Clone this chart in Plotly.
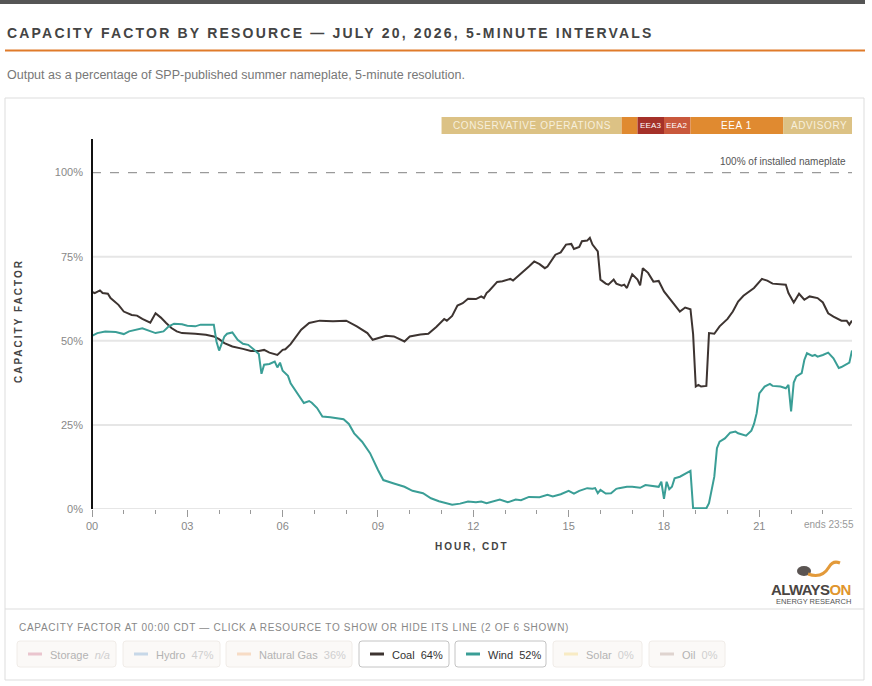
import plotly.graph_objects as go

# values: CDT time of the 5-minute interval, % of nameplate
coal_times = ["00:00", "00:05", "00:15", "00:20", "00:30", "00:35", "00:50",
              "01:00", "01:15", "01:25", "01:35", "01:50", "02:00", "02:10",
              "02:20", "02:30", "02:40", "02:50", "03:15", "03:35", "03:50",
              "04:00", "04:10", "04:25", "04:45", "05:00", "05:15", "05:25",
              "05:35", "05:50", "06:00", "06:05", "06:15", "06:35", "06:50",
              "07:10", "07:35", "08:00", "08:20", "08:40", "08:50", "09:05",
              "09:15", "09:30", "09:50", "10:00", "10:20", "10:35", "10:50",
              "11:05", "11:10", "11:20", "11:30", "11:40", "11:50", "12:05",
              "12:15", "12:20", "12:25", "12:30", "12:45", "12:55", "13:05",
              "13:10", "13:15", "13:25", "13:40", "13:45", "13:55", "14:05",
              "14:15", "14:20", "14:35", "14:45", "14:55", "15:05", "15:10",
              "15:20", "15:25", "15:35", "15:40", "15:45", "15:55", "16:00",
              "16:10", "16:15", "16:25", "16:30", "16:40", "16:45", "16:50",
              "17:00", "17:10", "17:15", "17:20", "17:30", "17:40", "17:50",
              "18:00", "18:10", "18:20", "18:30", "18:40", "18:50", "18:55",
              "19:00", "19:05", "19:10", "19:20", "19:25", "19:35", "19:45",
              "20:00", "20:10", "20:20", "20:30", "20:50", "21:05", "21:15",
              "21:25", "21:50", "21:55", "22:05", "22:15", "22:25", "22:35",
              "22:50", "23:00", "23:10", "23:20", "23:35", "23:45", "23:50",
              "23:55"]
coal_cf = [64.5, 64.2, 65.0, 64.2, 64.0, 62.7, 60.7,
           58.7, 57.7, 57.5, 56.5, 55.4, 58.2, 56.9,
           55.3, 53.8, 52.8, 52.3, 52.1, 51.8, 51.3,
           50.5, 49.3, 48.3, 47.6, 47.0, 47.0, 47.3,
           46.5, 45.8, 47.3, 47.5, 49.0, 53.3, 55.3,
           56.0, 55.8, 56.0, 54.3, 52.3, 50.3, 51.1,
           51.5, 51.3, 49.8, 51.3, 51.9, 52.1, 54.1,
           56.5, 56.0, 57.4, 60.5, 61.2, 62.5, 62.4,
           63.2, 62.7, 64.2, 64.9, 67.5, 67.7, 68.2,
           68.4, 67.9, 69.4, 71.4, 72.1, 73.6, 72.8,
           71.6, 72.1, 75.6, 76.3, 78.6, 78.8, 77.3,
           77.9, 79.6, 79.8, 80.6, 78.6, 76.6, 68.2,
           67.0, 66.7, 68.2, 67.0, 66.4, 66.7, 65.7,
           69.8, 68.2, 66.5, 71.6, 70.2, 67.6, 67.8,
           64.7, 62.7, 60.7, 58.7, 59.9, 59.4, 52.0,
           36.4, 36.9, 36.4, 36.6, 52.3, 52.1, 54.3,
           56.5, 58.7, 61.7, 63.4, 65.7, 68.4, 67.9,
           67.0, 66.7, 64.2, 61.4, 64.0, 62.2, 63.2,
           62.7, 61.4, 58.2, 57.2, 56.0, 56.0, 54.8,
           56.0]

wind_times = ["00:00", "00:10", "00:25", "00:45", "01:00", "01:10", "01:35",
              "01:45", "02:00", "02:15", "02:25", "02:35", "02:50", "03:00",
              "03:15", "03:25", "03:50", "03:55", "04:00", "04:10", "04:15",
              "04:25", "04:35", "04:45", "04:55", "05:05", "05:15", "05:20",
              "05:25", "05:35", "05:45", "05:50", "05:55", "06:00", "06:10",
              "06:15", "06:30", "06:40", "06:50", "06:55", "07:05", "07:15",
              "07:30", "07:55", "08:05", "08:15", "08:30", "08:45", "09:00",
              "09:10", "09:30", "09:50", "10:05", "10:25", "10:40", "10:55",
              "11:20", "11:35", "11:50", "12:05", "12:15", "12:25", "12:50",
              "13:05", "13:20", "13:30", "13:45", "14:05", "14:20", "14:30",
              "14:45", "15:00", "15:10", "15:20", "15:35", "15:45", "15:50",
              "15:55", "16:00", "16:10", "16:20", "16:30", "16:35", "16:50",
              "17:00", "17:15", "17:25", "17:40", "17:50", "17:55", "18:00",
              "18:05", "18:10", "18:15", "18:20", "18:30", "18:40", "18:50",
              "18:55", "19:10", "19:20", "19:25", "19:35", "19:40", "19:45",
              "19:55", "20:05", "20:15", "20:20", "20:35", "20:45", "20:50",
              "20:55", "21:00", "21:10", "21:20", "21:25", "21:40", "21:50",
              "21:55", "22:00", "22:05", "22:10", "22:20", "22:25", "22:30",
              "22:40", "22:45", "22:50", "23:00", "23:10", "23:20", "23:30",
              "23:35", "23:45", "23:50", "23:55"]
wind_cf = [51.5, 52.3, 52.8, 52.6, 52.0, 52.8, 53.7,
           53.2, 52.3, 52.8, 54.3, 55.1, 54.9, 54.5,
           54.3, 54.8, 54.8, 49.8, 47.1, 51.3, 52.1,
           52.5, 50.3, 49.1, 48.8, 47.5, 46.1, 40.2,
           42.9, 43.1, 43.8, 42.1, 43.5, 41.1, 39.6,
           37.4, 33.9, 31.5, 32.1, 31.6, 30.0, 27.5,
           27.3, 26.7, 25.3, 22.5, 20.0, 16.6, 11.6,
           8.6, 7.6, 6.6, 5.4, 4.7, 3.2, 2.3,
           1.3, 1.6, 2.2, 2.0, 2.2, 1.7, 2.8,
           2.0, 2.8, 2.6, 3.6, 3.5, 4.2, 3.7,
           4.4, 5.4, 4.6, 5.4, 6.2, 6.0, 6.2,
           4.7, 5.7, 4.6, 4.7, 6.0, 6.2, 6.6,
           6.6, 6.3, 7.1, 6.9, 6.6, 8.1, 3.0,
           8.1, 5.9, 6.6, 9.1, 9.6, 10.4, 11.3,
           0.2, 0.2, 0.2, 1.7, 9.6, 18.1, 20.0,
           21.0, 22.7, 23.0, 22.5, 21.8, 23.3, 25.3,
           28.5, 34.4, 36.4, 37.2, 36.6, 36.4, 35.9,
           36.9, 29.0, 37.6, 39.4, 40.4, 44.3, 46.3,
           45.5, 45.8, 45.3, 45.8, 46.5, 44.8, 41.9,
           42.2, 43.2, 43.5, 47.1]

hour_ticks = [0, 3, 6, 9, 12, 15, 18, 21]
hour_labels = ["00", "03", "06", "09", "12", "15", "18", "21"]
pct_ticks = [0, 25, 50, 75, 100]
pct_labels = ["0%", "25%", "50%", "75%", "100%"]

alert_labels = ["CONSERVATIVE OPERATIONS", "", "EEA3", "EEA2", "EEA 1", "ADVISORY"]
alert_start = ["11:00", "16:40", "17:10", "18:00", "18:50", "21:45"]
alert_end = ["16:40", "17:10", "18:00", "18:50", "21:45", "24:00"]
alert_colors = ["#dcc285", "#e08a30", "#a53129", "#c9583c", "#e08a30", "#dcc285"]

cursor_time = "00:00"
resources = ["Storage", "Hydro", "Natural Gas", "Coal", "Wind", "Solar", "Oil"]
cf_at_cursor = ["n/a", "47%", "36%", "64%", "52%", "0%", "0%"]
resource_colors = ["#dfa3b3", "#a6c3df", "#f5c9a4", "#3d3431", "#3a9e96", "#f7e2a3", "#cdbdb6"]
resource_shown = [False, False, False, True, True, False, False]

FONT = "Liberation Sans, Arial, sans-serif"
W, H = 872, 686
PL, PR, PT, PB = 92, 852, 139, 509   # plot area in page pixels


def hrs(t):
    h, m = t.split(":")
    return int(h) + int(m) / 60


def fx(px):
    return (px - PL) / (PR - PL)


def fy(py):
    return (PB - py) / (PB - PT)


def spaced(text, sp):
    return f'<span style="letter-spacing:{sp}px">{text}</span>'


X_MAX = hrs(coal_times[-1])

fig = go.Figure()
fig.add_trace(go.Scatter(x=[hrs(t) for t in coal_times], y=coal_cf, mode="lines",
                         line=dict(color="#3d3431", width=2), hoverinfo="skip"))
fig.add_trace(go.Scatter(x=[hrs(t) for t in wind_times], y=wind_cf, mode="lines",
                         line=dict(color="#3a9e96", width=2), hoverinfo="skip"))

shapes = []
ann = []


def text(s, x, y, size=11, color="#555", xanchor="left", **kw):
    d = dict(text=s, x=x, y=y, xref="paper", yref="paper", showarrow=False,
             xanchor=xanchor, yanchor="middle",
             font=dict(family=FONT, size=size, color=color))
    d.update(kw)
    ann.append(d)


def prect(x0, y0, x1, y1, **kw):
    shapes.append(dict(type="rect", xref="paper", yref="paper",
                       x0=fx(x0), x1=fx(x1), y0=fy(y1), y1=fy(y0), **kw))


# page furniture
prect(0, 0, 865, 4, fillcolor="#555555", line_width=0)
text(spaced("<b>CAPACITY FACTOR BY RESOURCE — JULY 20, 2026, 5-MINUTE INTERVALS</b>", 2.2),
     fx(5), fy(33), size=14, color="#444")
prect(5, 49.5, 865, 51.5, fillcolor="#e07b2a", line_width=0)
text("Output as a percentage of SPP-published summer nameplate, 5-minute resolution.",
     fx(5), fy(75), size=12.5, color="#777")
prect(5, 98, 864, 680, line=dict(color="#dddddd", width=1), fillcolor="rgba(0,0,0,0)")
shapes.append(dict(type="line", xref="paper", yref="paper", x0=fx(5), x1=fx(864),
                   y0=fy(609), y1=fy(609), line=dict(color="#dddddd", width=1)))

# gridlines and 100% reference
for v in pct_ticks[:-1]:
    shapes.append(dict(type="line", xref="paper", yref="y", x0=0, x1=1, y0=v, y1=v,
                       line=dict(color="#e6e6e6", width=2), layer="below"))
shapes.append(dict(type="line", xref="paper", yref="y", x0=0, x1=1, y0=100, y1=100,
                   line=dict(color="#9a9a9a", width=1.2, dash="dash"), layer="below"))
ann.append(dict(text="100% of installed nameplate", x=fx(848), y=103.3, xref="paper", yref="y",
                showarrow=False, xanchor="right", yanchor="middle",
                font=dict(family=FONT, size=10, color="#555")))

# cursor
shapes.append(dict(type="line", xref="paper", yref="paper",
                   x0=hrs(cursor_time) / X_MAX, x1=hrs(cursor_time) / X_MAX, y0=0, y1=1,
                   line=dict(color="#111111", width=2)))

# grid alert band
for lab, s, e, c in zip(alert_labels, alert_start, alert_end, alert_colors):
    shapes.append(dict(type="rect", xref="x", yref="paper", x0=hrs(s), x1=hrs(e),
                       y0=fy(134), y1=fy(117), fillcolor=c, line_width=0))
    if lab:
        small = lab.startswith("EEA") and " " not in lab
        tc = "#f7efdc" if c == "#dcc285" else "#ffffff"
        ann.append(dict(text=spaced(lab, 0.2 if small else 0.6), x=(hrs(s) + hrs(e)) / 2,
                        y=fy(125.5), xref="x", yref="paper", showarrow=False,
                        xanchor="center", yanchor="middle",
                        font=dict(family=FONT, size=8 if small else 10, color=tc)))

# axis titles and notes
text(spaced("<b>CAPACITY FACTOR</b>", 2), fx(18), fy(321), size=10, color="#444",
     xanchor="center", textangle=-90)
text(spaced("<b>HOUR, CDT</b>", 2), 0.5, fy(546), size=10, color="#444", xanchor="center")
text(f"ends {coal_times[-1]}", fx(856), fy(524), size=10, color="#999", xanchor="right")

# logo
shapes.append(dict(type="circle", xref="paper", yref="paper", x0=fx(797), x1=fx(811),
                   y0=fy(576), y1=fy(566), fillcolor="#5a5452", line_width=0))
shapes.append(dict(type="path", xref="paper", yref="paper",
                   path=f"M {fx(808)},{fy(574)} Q {fx(822)},{fy(579)} {fx(829)},{fy(567)} "
                        f"Q {fx(833)},{fy(560)} {fx(840)},{fy(563)}",
                   line=dict(color="#e39a3a", width=3)))
text('<b><span style="color:#4a4542;letter-spacing:-0.6px">ALWAYS</span>'
     '<span style="color:#e0952e;letter-spacing:-0.6px">ON</span></b>',
     fx(853), fy(589), size=15, xanchor="right")
text("ENERGY RESEARCH", fx(853), fy(601), size=7.5, color="#555", xanchor="right")

# resource pills
n_avail = sum(1 for v in cf_at_cursor if v != "n/a")
text(spaced(f"CAPACITY FACTOR AT {cursor_time} CDT — CLICK A RESOURCE TO SHOW OR HIDE ITS LINE "
            f"({sum(resource_shown)} OF {n_avail} SHOWN)", 0.7),
     fx(17), fy(627), size=10, color="#888")

pill_left = [17, 123, 226, 359, 455, 553, 649]
pill_right = [116, 220, 352, 449, 546, 642, 725]
for i, name in enumerate(resources):
    x0, x1, y0, y1, r = pill_left[i], pill_right[i], 641, 667, 3
    on = resource_shown[i]
    p = (f"M {fx(x0 + r)},{fy(y0)} L {fx(x1 - r)},{fy(y0)} Q {fx(x1)},{fy(y0)} {fx(x1)},{fy(y0 + r)} "
         f"L {fx(x1)},{fy(y1 - r)} Q {fx(x1)},{fy(y1)} {fx(x1 - r)},{fy(y1)} "
         f"L {fx(x0 + r)},{fy(y1)} Q {fx(x0)},{fy(y1)} {fx(x0)},{fy(y1 - r)} "
         f"L {fx(x0)},{fy(y0 + r)} Q {fx(x0)},{fy(y0)} {fx(x0 + r)},{fy(y0)} Z")
    shapes.append(dict(type="path", xref="paper", yref="paper", path=p,
                       fillcolor="#ffffff" if on else "#fbf9f7",
                       line=dict(color="#c4c4c4" if on else "#f0ece8", width=1)))
    shapes.append(dict(type="line", xref="paper", yref="paper", x0=fx(x0 + 11), x1=fx(x0 + 25),
                       y0=fy(654), y1=fy(654), opacity=1 if on else 0.6,
                       line=dict(color=resource_colors[i], width=3)))
    val = cf_at_cursor[i]
    if val == "n/a":
        val = f"<i>{val}</i>"
    lc = "#333" if on else "#b3b3b3"
    vc = "#333" if on else "#cfcfcf"
    text(f'{name}&nbsp;&nbsp;<span style="color:{vc}">{val}</span>', fx(x0 + 31), fy(654.5),
         size=11, color=lc)

fig.update_layout(
    width=W, height=H, autosize=False,
    margin=dict(l=PL, r=W - PR, t=PT, b=H - PB, pad=0),
    paper_bgcolor="white", plot_bgcolor="white",
    showlegend=False,
    xaxis=dict(range=[0, X_MAX], tickvals=hour_ticks, ticktext=hour_labels,
               ticks="outside", ticklen=7, tickwidth=1, tickcolor="#999",
               showgrid=False, zeroline=False, showline=False, fixedrange=True,
               tickfont=dict(family=FONT, size=11, color="#888"),
               minor=dict(dtick=1, tick0=0, ticks="outside", ticklen=4, tickwidth=1,
                          tickcolor="#999", showgrid=False)),
    yaxis=dict(range=[0, 110], tickvals=pct_ticks, ticktext=pct_labels,
               showgrid=False, zeroline=False, showline=False, ticks="",
               ticklabelstandoff=8, fixedrange=True,
               tickfont=dict(family=FONT, size=11, color="#888")),
    shapes=shapes,
    annotations=ann,
)

# the page's default 8px body margin would shift the figure; remove it
fig.write_html("out.html", config={"displayModeBar": False},
               post_script="document.body.style.margin='0';")
